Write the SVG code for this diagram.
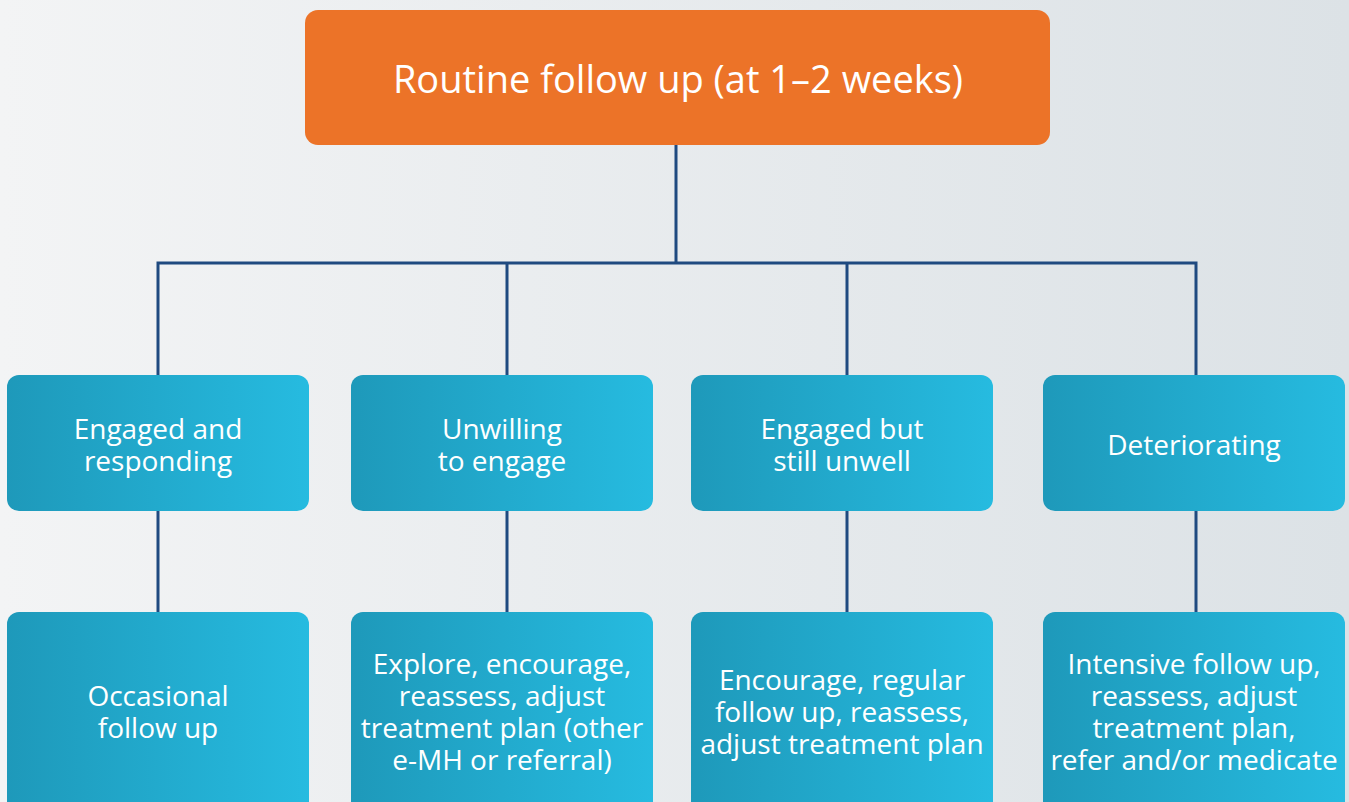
<svg xmlns="http://www.w3.org/2000/svg" width="1349" height="802" viewBox="0 0 1349 802">
<defs>
<linearGradient id="bg" x1="0" y1="0" x2="1" y2="0">
<stop offset="0" stop-color="#F3F4F5"/>
<stop offset="1" stop-color="#DCE2E6"/>
</linearGradient>
<linearGradient id="teal" x1="0" y1="0" x2="1" y2="0">
<stop offset="0" stop-color="#1E99BA"/>
<stop offset="1" stop-color="#26BBE0"/>
</linearGradient>
<style>
.t{font-family:"Open Sans","Liberation Sans",sans-serif;fill:#FFFFFF;text-anchor:middle;}
.top{font-size:38px;}
.m{font-size:28px;}
.box{fill:url(#teal);}
.conn{fill:none;stroke:#1F4A80;stroke-width:3;}
</style>
</defs>
<rect x="0" y="0" width="1349" height="802" fill="url(#bg)"/>
<g id="connectors">
<path class="conn" d="M676 145 V263 M158 375 V263 H1196 V375 M507 263 V375 M847 263 V375"/>
<path class="conn" d="M158 511 V612 M507 511 V612 M847 511 V612 M1196 511 V612"/>
</g>
<g id="top">
<rect x="305" y="10" width="745" height="135" rx="13" fill="#EC7328"/>
<text class="t top" x="678" y="93">Routine follow up (at 1–2 weeks)</text>
</g>
<g id="m1">
<rect class="box" x="7" y="375" width="302" height="136" rx="12"/>
<text class="t m" x="158" y="439">Engaged and</text>
<text class="t m" x="158" y="471">responding</text>
</g>
<g id="m2">
<rect class="box" x="351" y="375" width="302" height="136" rx="12"/>
<text class="t m" x="502" y="439">Unwilling</text>
<text class="t m" x="502" y="471">to engage</text>
</g>
<g id="m3">
<rect class="box" x="691" y="375" width="302" height="136" rx="12"/>
<text class="t m" x="842" y="439">Engaged but</text>
<text class="t m" x="842" y="471">still unwell</text>
</g>
<g id="m4">
<rect class="box" x="1043" y="375" width="302" height="136" rx="12"/>
<text class="t m" x="1194" y="455">Deteriorating</text>
</g>
<g id="b1">
<rect class="box" x="7" y="612" width="302" height="210" rx="12"/>
<text class="t m" x="158" y="706">Occasional</text>
<text class="t m" x="158" y="738">follow up</text>
</g>
<g id="b2">
<rect class="box" x="351" y="612" width="302" height="210" rx="12"/>
<text class="t m" x="502" y="674">Explore, encourage,</text>
<text class="t m" x="502" y="706">reassess, adjust</text>
<text class="t m" x="502" y="738">treatment plan (other</text>
<text class="t m" x="502" y="770">e-MH or referral)</text>
</g>
<g id="b3">
<rect class="box" x="691" y="612" width="302" height="210" rx="12"/>
<text class="t m" x="842" y="690">Encourage, regular</text>
<text class="t m" x="842" y="722">follow up, reassess,</text>
<text class="t m" x="842" y="754">adjust treatment plan</text>
</g>
<g id="b4">
<rect class="box" x="1043" y="612" width="302" height="210" rx="12"/>
<text class="t m" x="1194" y="674">Intensive follow up,</text>
<text class="t m" x="1194" y="706">reassess, adjust</text>
<text class="t m" x="1194" y="738">treatment plan,</text>
<text class="t m" x="1194" y="770">refer and/or medicate</text>
</g>
</svg>
